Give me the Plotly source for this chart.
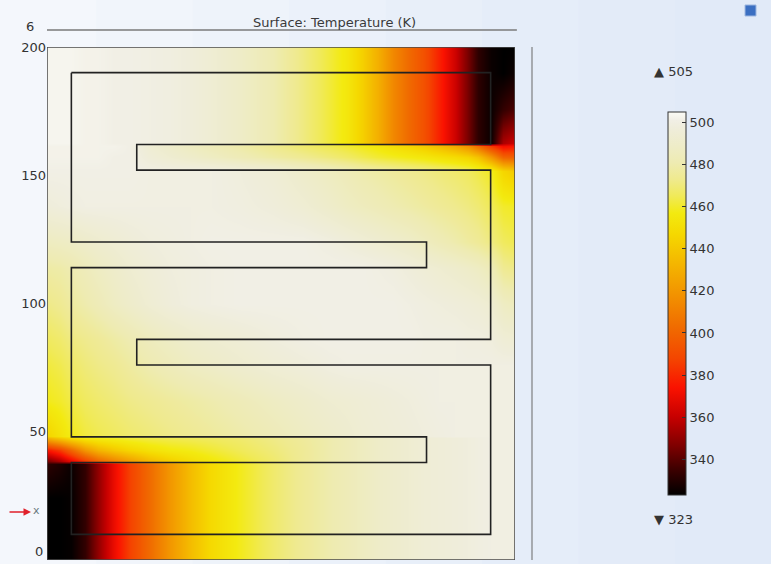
import plotly.graph_objects as go

# Temperature field sampled on a non-uniform grid (x, y in model units, T in K)
T_X = [0, 5, 9.5, 15, 20, 26, 32, 40, 48, 56, 64, 75, 88, 100, 110, 117,
       123, 129, 135, 141, 147, 153, 159, 164, 168, 173, 178, 182.5]
T_Y = [0, 10, 24, 37.5, 38.5, 43, 47.5, 48.5, 62, 76, 86, 100, 114, 124,
       138, 151.5, 157, 161.5, 162.5, 176, 190, 200]

T_K = [
    # y = 0
    [323, 323, 324, 333, 350, 370, 386, 403, 420, 436, 448, 458, 468, 475, 480, 483, 486, 489, 491, 493, 495, 496, 497, 498, 499, 500, 500, 500],
    # y = 10
    [323, 323, 324, 333, 350, 370, 386, 403, 420, 436, 448, 458, 468, 475, 480, 483, 486, 489, 491, 493, 495, 496, 497, 498, 499, 500, 500, 500],
    # y = 24
    [323, 323, 324, 333, 350, 370, 386, 403, 420, 436, 448, 458, 468, 475, 480, 483, 486, 489, 491, 493, 495, 496, 497, 498, 499, 500, 500, 500],
    # y = 37.5
    [332, 329, 325, 333, 350, 370, 386, 403, 420, 436, 448, 458, 468, 475, 480, 483, 486, 489, 491, 493, 495, 496, 497, 498, 499, 500, 500, 500],
    # y = 38.5
    [345, 355, 368, 385, 400, 412, 422, 435, 443, 450, 455, 461, 468, 475, 480, 483, 486, 489, 491, 493, 495, 496, 497, 498, 499, 500, 500, 500],
    # y = 43
    [375, 385, 400, 420, 432, 440, 446, 452, 456, 458, 461, 465, 470, 475, 480, 483, 486, 489, 491, 493, 495, 496, 497, 498, 499, 500, 500, 500],
    # y = 47.5
    [430, 440, 448, 454, 457, 459, 461, 463, 464, 465, 466, 468, 472, 476, 480, 483, 486, 489, 491, 493, 495, 496, 497, 498, 499, 500, 500, 500],
    # y = 48.5
    [445, 452, 458, 462, 464, 466, 468, 470, 472, 474, 476, 479, 483, 487, 490, 492, 494, 495, 496, 497, 498, 499, 500, 500, 500, 500, 500, 500],
    # y = 62
    [458, 460, 463, 466, 468, 470, 472, 474, 476, 478, 480, 483, 487, 490, 493, 494, 495, 496, 497, 498, 499, 500, 500, 500, 500, 500, 500, 500],
    # y = 76
    [462, 464, 467, 470, 472, 474, 477, 481, 484, 487, 489, 492, 495, 497, 499, 500, 500, 500, 500, 500, 500, 500, 500, 500, 500, 500, 500, 500],
    # y = 86
    [466, 468, 471, 473, 475, 478, 481, 485, 488, 491, 493, 495, 498, 500, 501, 501, 501, 501, 501, 501, 500, 500, 500, 499, 499, 498, 495, 494],
    # y = 100
    [472, 474, 477, 480, 483, 487, 490, 494, 497, 499, 500, 501, 501, 501, 501, 501, 501, 501, 501, 500, 499, 498, 497, 496, 495, 493, 487, 485],
    # y = 114
    [478, 479, 481, 484, 487, 490, 493, 496, 498, 499, 500, 501, 501, 501, 501, 501, 501, 500, 499, 497, 495, 493, 491, 489, 487, 483, 474, 472],
    # y = 124
    [486, 487, 488, 490, 492, 494, 496, 498, 499, 500, 501, 501, 501, 501, 499, 497, 495, 493, 491, 489, 486, 483, 480, 477, 475, 471, 466, 464],
    # y = 138
    [497, 498, 499, 500, 500, 500, 500, 500, 500, 500, 500, 499, 497, 494, 490, 487, 485, 483, 481, 479, 477, 475, 473, 471, 469, 465, 460, 459],
    # y = 151.5
    [501, 501, 501, 501, 501, 501, 501, 500, 500, 500, 500, 498, 495, 490, 486, 483, 480, 478, 476, 474, 472, 470, 468, 466, 463, 459, 446, 441],
    # y = 157
    [502, 502, 502, 502, 502, 501, 501, 496, 493, 490, 487, 483, 478, 474, 470, 467, 464, 461, 459, 457, 455, 452, 449, 445, 438, 420, 400, 398],
    # y = 161.5
    [502, 502, 502, 502, 502, 502, 501, 494, 490, 486, 483, 479, 473, 468, 464, 461, 458, 455, 451, 447, 442, 436, 428, 418, 404, 385, 372, 375],
    # y = 162.5
    [503, 503, 503, 502, 502, 501, 501, 500, 499, 497, 494, 489, 481, 471, 462, 455, 444, 430, 414, 402, 392, 378, 362, 345, 332, 325, 355, 362],
    # y = 176
    [503, 503, 503, 502, 502, 501, 501, 500, 499, 497, 494, 489, 481, 471, 462, 455, 444, 430, 414, 402, 392, 378, 362, 345, 332, 325, 333, 338],
    # y = 190
    [503, 503, 503, 502, 502, 501, 501, 500, 499, 497, 494, 489, 481, 471, 462, 455, 444, 430, 414, 402, 392, 378, 362, 345, 332, 325, 323, 326],
    # y = 200
    [503, 503, 503, 502, 502, 501, 501, 500, 499, 497, 494, 489, 481, 471, 462, 455, 444, 430, 414, 402, 392, 378, 362, 345, 332, 325, 323, 323],
]

T_MIN, T_MAX = 323, 505
CBAR_TICKS = [340, 360, 380, 400, 420, 440, 460, 480, 500]

# Serpentine wall geometry (closed polyline)
WALL_X = [9.5, 173, 173, 35, 35, 173, 173, 35, 35, 173, 173, 9.5, 9.5,
          148, 148, 9.5, 9.5, 148, 148, 9.5, 9.5]
WALL_Y = [190, 190, 162, 162, 152, 152, 86, 86, 76, 76, 10, 10, 38,
          38, 48, 48, 114, 114, 124, 124, 190]

DOMAIN_W, DOMAIN_H = 182.5, 200
Y_TICKS = [50, 100, 150, 200]   # the 0 label is placed separately at the bottom edge
Y_ZERO_LABEL = "0"

# Thermal colour ramp: black -> dark red -> red -> orange -> yellow -> off-white
stops = [
    (323, "#000000"), (335, "#3c0000"), (346, "#7c0000"), (360, "#c60000"),
    (374, "#fa1200"), (388, "#f44600"), (403, "#f06c00"), (418, "#f29200"),
    (433, "#f4b600"), (447, "#f5d800"), (457, "#f3ea10"), (465, "#f0ea58"),
    (473, "#efea8e"), (481, "#eeebb2"), (489, "#eeecc8"), (497, "#efedda"),
    (501, "#f1efe5"), (505, "#fbfbf6"),
]
colorscale = [[(t - T_MIN) / (T_MAX - T_MIN), c] for t, c in stops]

fig = go.Figure()

fig.add_trace(go.Heatmap(
    x=T_X, y=T_Y, z=T_K,
    zmin=T_MIN, zmax=T_MAX,
    zsmooth="best",
    colorscale=colorscale,
    hoverinfo="skip",
    colorbar=dict(
        x=1.327, xanchor="left", xpad=0,
        y=0.5, yanchor="middle", ypad=0,
        len=0.7466, lenmode="fraction",
        thickness=18,
        outlinewidth=1, outlinecolor="#333333",
        tickvals=CBAR_TICKS,
        ticks="inside", ticklen=4, tickcolor="#333333",
        tickfont=dict(family="DejaVu Sans", size=13, color="#333333"),
    ),
))

fig.add_trace(go.Scatter(
    x=WALL_X, y=WALL_Y, mode="lines",
    line=dict(color="#222222", width=1.6),
    hoverinfo="skip", showlegend=False,
))

# soft left-to-right background shading of the window
bg_colors = ["#f4f7fc", "#f1f5fb", "#eef3fa", "#ebf1fa", "#e8eff9",
             "#e5edf9", "#e3ebf8", "#e1eaf8"]
x_left, x_right = -0.101, 1.548
band_w = (x_right - x_left) / len(bg_colors)
shapes = [
    dict(type="rect", xref="paper", yref="paper", layer="below",
         x0=x_left + i * band_w, x1=x_left + (i + 1) * band_w + 0.002,
         y0=-0.01, y1=1.095, fillcolor=c, line=dict(width=0))
    for i, c in enumerate(bg_colors)
]

shapes += [
    # model boundary
    dict(type="rect", xref="x", yref="y", x0=0, y0=0, x1=DOMAIN_W, y1=DOMAIN_H,
         line=dict(color="#4a4a4a", width=1.5)),
    # frame line across the top
    dict(type="line", xref="paper", yref="paper", x0=0, x1=1.004, y0=1.0331, y1=1.0331,
         line=dict(color="#7a7a7a", width=1.5)),
    # frame line on the right
    dict(type="line", xref="paper", yref="paper", x0=1.0363, x1=1.0363, y0=0, y1=1,
         line=dict(color="#a6aab0", width=2)),
    # window icon
    dict(type="rect", xref="paper", yref="paper", x0=1.4915, x1=1.515, y0=1.0604, y1=1.0819,
         fillcolor="#3b6fc2", line=dict(color="#9fb8e0", width=1)),
]

annotations = [
    dict(text="Surface: Temperature (K)", xref="paper", yref="paper",
         x=0.615, y=1.0487, xanchor="center", yanchor="middle", showarrow=False,
         font=dict(family="DejaVu Sans", size=13, color="#3a3a3a")),
    dict(text="6", xref="paper", yref="paper", x=-0.036, y=1.039,
         xanchor="center", yanchor="middle", showarrow=False,
         font=dict(family="DejaVu Sans", size=13, color="#333333")),
    dict(text=Y_ZERO_LABEL, xref="paper", yref="paper", x=-0.004, y=0.0,
         xanchor="right", yanchor="bottom", yshift=-1, showarrow=False,
         font=dict(family="DejaVu Sans", size=13, color="#333333")),
    dict(text="▲ 505", xref="paper", yref="paper", x=1.2927, y=0.953,
         xanchor="left", yanchor="middle", showarrow=False,
         font=dict(family="DejaVu Sans", size=13, color="#333333")),
    dict(text="▼ 323", xref="paper", yref="paper", x=1.2927, y=0.078,
         xanchor="left", yanchor="middle", showarrow=False,
         font=dict(family="DejaVu Sans", size=13, color="#333333")),
    dict(text="", xref="paper", yref="paper", x=-0.0342, y=0.0936,
         ax=-23, ay=0, axref="pixel", ayref="pixel", showarrow=True,
         arrowhead=2, arrowsize=1, arrowwidth=1.5, arrowcolor="#e0202a"),
    dict(text="x", xref="paper", yref="paper", x=-0.022, y=0.0956,
         xanchor="center", yanchor="middle", showarrow=False,
         font=dict(family="DejaVu Sans", size=11, color="#6a7a80")),
]

fig.update_layout(
    width=771, height=564,
    margin=dict(l=47, r=256, t=47, b=4, autoexpand=False),
    paper_bgcolor="#eaf1fa",
    plot_bgcolor="#f0eee6",
    showlegend=False,
    shapes=shapes,
    annotations=annotations,
    xaxis=dict(range=[0, DOMAIN_W], showgrid=False, zeroline=False,
               showticklabels=False, ticks="", showline=False, automargin=False),
    yaxis=dict(range=[0, DOMAIN_H], tickvals=Y_TICKS, showgrid=False, zeroline=False,
               ticks="", showline=False, automargin=False, ticklabeloverflow="allow",
               tickfont=dict(family="DejaVu Sans", size=13, color="#333333")),
)

fig.write_html("out.html")
